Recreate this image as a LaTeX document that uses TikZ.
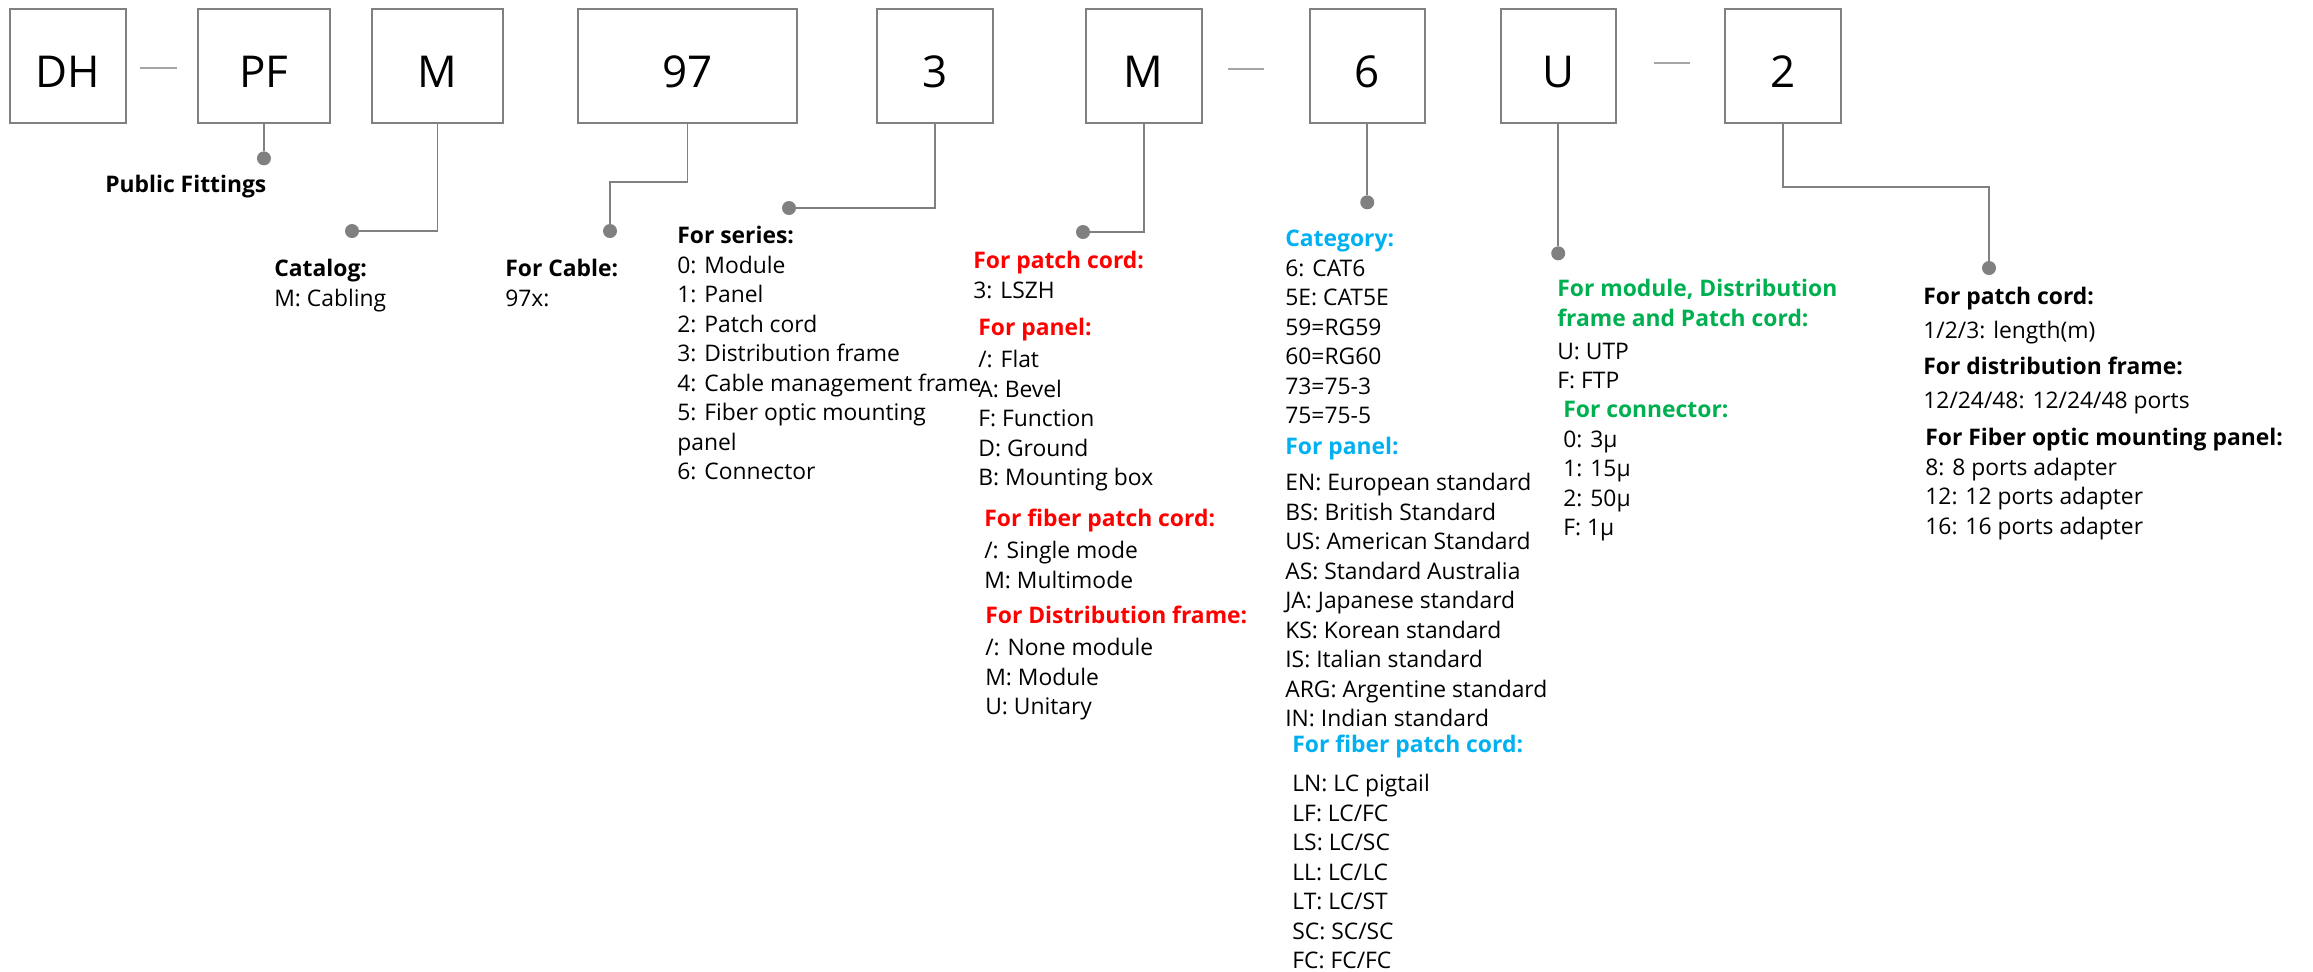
\documentclass[tikz,border=0pt]{standalone}
\usepackage{fontspec}
\setmainfont{Open Sans}
\usepackage{xcolor}
\usepackage{tikz}
\usetikzlibrary{positioning}
\definecolor{linegray}{RGB}{128, 128, 128}
\definecolor{sepgray}{RGB}{165, 165, 165}
\definecolor{headred}{RGB}{255, 0, 0}
\definecolor{headblue}{RGB}{0, 176, 240}
\definecolor{headgreen}{RGB}{0, 176, 80}
\newcommand{\hd}[2]{{\color{#1}\bfseries #2}}

\begin{document}
\begin{tikzpicture}[
  x=0.02cm, y=-0.02cm,
  box/.style={rectangle, draw=linegray, line width=0.04cm, minimum width=2.32cm, minimum height=2.3cm,
              inner sep=0pt, text height=25pt, text depth=0pt, font=\fontsize{25}{30}\selectfont},
  dot/.style={circle, fill=linegray, inner sep=0pt, minimum size=0.28cm},
  link/.style={draw=linegray, line width=0.035cm},
  sep/.style={draw=sepgray, line width=0.03cm},
  info/.style={anchor=north west, align=left, inner sep=0pt, yshift=-0.08cm,
               font=\fontsize{13}{16.8}\selectfont, execute at begin node=\strut}
]
\useasboundingbox (0,0) rectangle (2313,971);

% Code boxes
\node[box] (dh) at (68,66) {DH};
\node[box, minimum width=2.64cm, right=1.40cm of dh] (pf) {PF};
\node[box, minimum width=2.62cm, right=0.80cm of pf] (mcat) {M};
\node[box, minimum width=4.38cm, right=1.46cm of mcat] (cable) {97};
\node[box, right=1.56cm of cable] (series) {3};
\node[box, right=1.82cm of series] (material) {M};
\node[box, minimum width=2.30cm, right=2.12cm of material] (category) {6};
\node[box, minimum width=2.30cm, right=1.48cm of category] (shield) {U};
\node[box, right=2.14cm of shield] (length) {2};

% Separators
\draw[sep] (dh.east) ++(13,2) -- ++(37,0);
\draw[sep] (material.east) ++(25,3) -- ++(36,0);
\draw[sep] (shield.east) ++(37,-3) -- ++(36,0);

% Dots
\node[dot, below=0.53cm of pf] (pfdot) {};
\node[dot] (mdot) at (352,231) {};
\node[dot] (cabledot) at (610,231) {};
\node[dot] (seriesdot) at (789,208) {};
\node[dot] (matdot) at (1083,232) {};
\node[dot, below=1.41cm of category] (catdot) {};
\node[dot, below=2.43cm of shield] (shielddot) {};
\node[dot] (lendot) at (1989,268) {};

% Connectors
\draw[link] (pf) -- (pfdot);
\draw[link] (mcat.south) |- (mdot);
\draw[link] (cable.south) -- ++(0,57.5) -| (cabledot);
\draw[link] (series.south) |- (seriesdot);
\draw[link] (material.south) |- (matdot);
\draw[link] (category) -- (catdot);
\draw[link] (shield) -- (shielddot);
\draw[link] (length.south) -- ++(0,62.5) -| (lendot);

% Descriptions
\node[info] (pftext) at (105,167) {\textbf{Public Fittings}};
\node[info] (mtext) at (274,255) {\textbf{Catalog:}\\ M: Cabling};
\node[info] (cabletext) at (505,255) {\textbf{For Cable:}\\ 97x:};
\node[info] (seriestext) at (677,222) {\textbf{For series:}\\ 0: Module\\ 1: Panel\\ 2: Patch cord\\
  3: Distribution frame\\ 4: Cable management frame\\ 5: Fiber optic mounting\\ panel\\ 6: Connector};

\node[info] (mattext) at (973,247) {\hd{headred}{For patch cord:}\\ 3: LSZH};
\node[info] (panelred) at (978,314) {\hd{headred}{For panel:}\\[0.05cm] /: Flat\\ A: Bevel\\ F: Function\\
  D: Ground\\ B: Mounting box};
\node[info] (fiberred) at (984,505) {\hd{headred}{For fiber patch cord:}\\[0.05cm] /: Single mode\\ M: Multimode};
\node[info] (framered) at (985,602) {\hd{headred}{For Distribution frame:}\\[0.05cm] /: None module\\
  M: Module\\ U: Unitary};

\node[info] (cattext) at (1285,226) {\hd{headblue}{Category:}\\ 6: CAT6\\ 5E: CAT5E\\ 59=RG59\\ 60=RG60\\
  73=75-3\\ 75=75-5};
\node[info] (panelblue) at (1285,433) {\hd{headblue}{For panel:}\\[0.13cm] EN: European standard\\
  BS: British Standard\\ US: American Standard\\ AS: Standard Australia\\ JA: Japanese standard\\
  KS: Korean standard\\ IS: Italian standard\\ ARG: Argentine standard\\ IN: Indian standard};
\node[info] (fiberblue) at (1292,731) {\hd{headblue}{For fiber patch cord:}\\[0.19cm] LN: LC pigtail\\
  LF: LC/FC\\ LS: LC/SC\\ LL: LC/LC\\ LT: LC/ST\\ SC: SC/SC\\ FC: FC/FC};

\node[info] (shieldtext) at (1557,275) {\hd{headgreen}{For module, Distribution}\\
  \hd{headgreen}{frame and Patch cord:}\\[0.07cm] U: UTP\\ F: FTP};
\node[info] (conngreen) at (1563,397) {\hd{headgreen}{For connector:}\\ 0: 3µ\\ 1: 15µ\\ 2: 50µ\\ F: 1µ};

\node[info] (lentext) at (1923,283) {\textbf{For patch cord:}\\[0.09cm] 1/2/3: length(m)};
\node[info] (portstext) at (1923,353) {\textbf{For distribution frame:}\\[0.09cm] 12/24/48: 12/24/48 ports};
\node[info] (adaptext) at (1925,424) {\textbf{For Fiber optic mounting panel:}\\ 8: 8 ports adapter\\
  12: 12 ports adapter\\ 16: 16 ports adapter};

\end{tikzpicture}
\end{document}
